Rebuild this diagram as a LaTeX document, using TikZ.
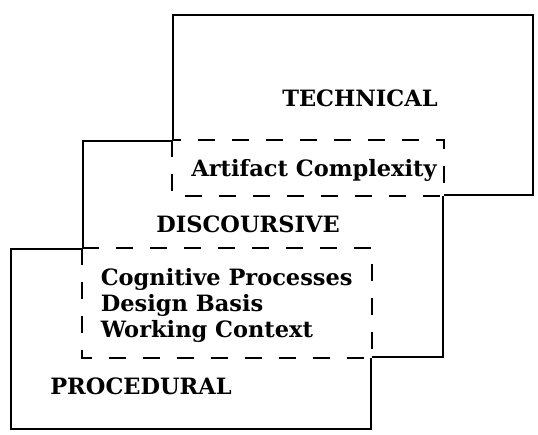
\documentclass[tikz,border=0pt]{standalone}
\usepackage{fontspec}
\setmainfont{DejaVu Serif}
\begin{document}
\begin{tikzpicture}[x=1pt,y=-1pt,line width=1.6pt,
    area/.style={draw,rectangle,minimum width=360pt,inner sep=0pt},
    overlap/.style={draw,fill=white,dash pattern=on 17pt off 17pt},
    lbl/.style={font=\fontsize{22.5}{26}\selectfont\bfseries,inner sep=0pt}]
   \useasboundingbox (0,0) rectangle (538,434);
   \node[area,minimum height=180pt] (tech) at (353,105) {};
   \node[area,minimum height=216pt] (disc) at (263,249) {};
   \node[area,minimum height=180pt] (proc) at (191,339) {};
   \draw[overlap] (tech.west |- disc.north) rectangle (disc.east |- tech.south);
   \draw[overlap] (disc.west |- proc.north) rectangle (proc.east |- disc.south);
   \node[lbl] (techlbl) at (360,98) {TECHNICAL};
   \node[lbl] (artlbl) at (314,170) {Artifact Complexity};
   \node[lbl] (disclbl) at (248,224) {DISCOURSIVE};
   \node[lbl,align=left,anchor=west] (proclist) at (100,305)
     {Cognitive Processes\\Design Basis\\Working Context};
   \node[lbl] (proclbl) at (141,386) {PROCEDURAL};
\end{tikzpicture}
\end{document}
